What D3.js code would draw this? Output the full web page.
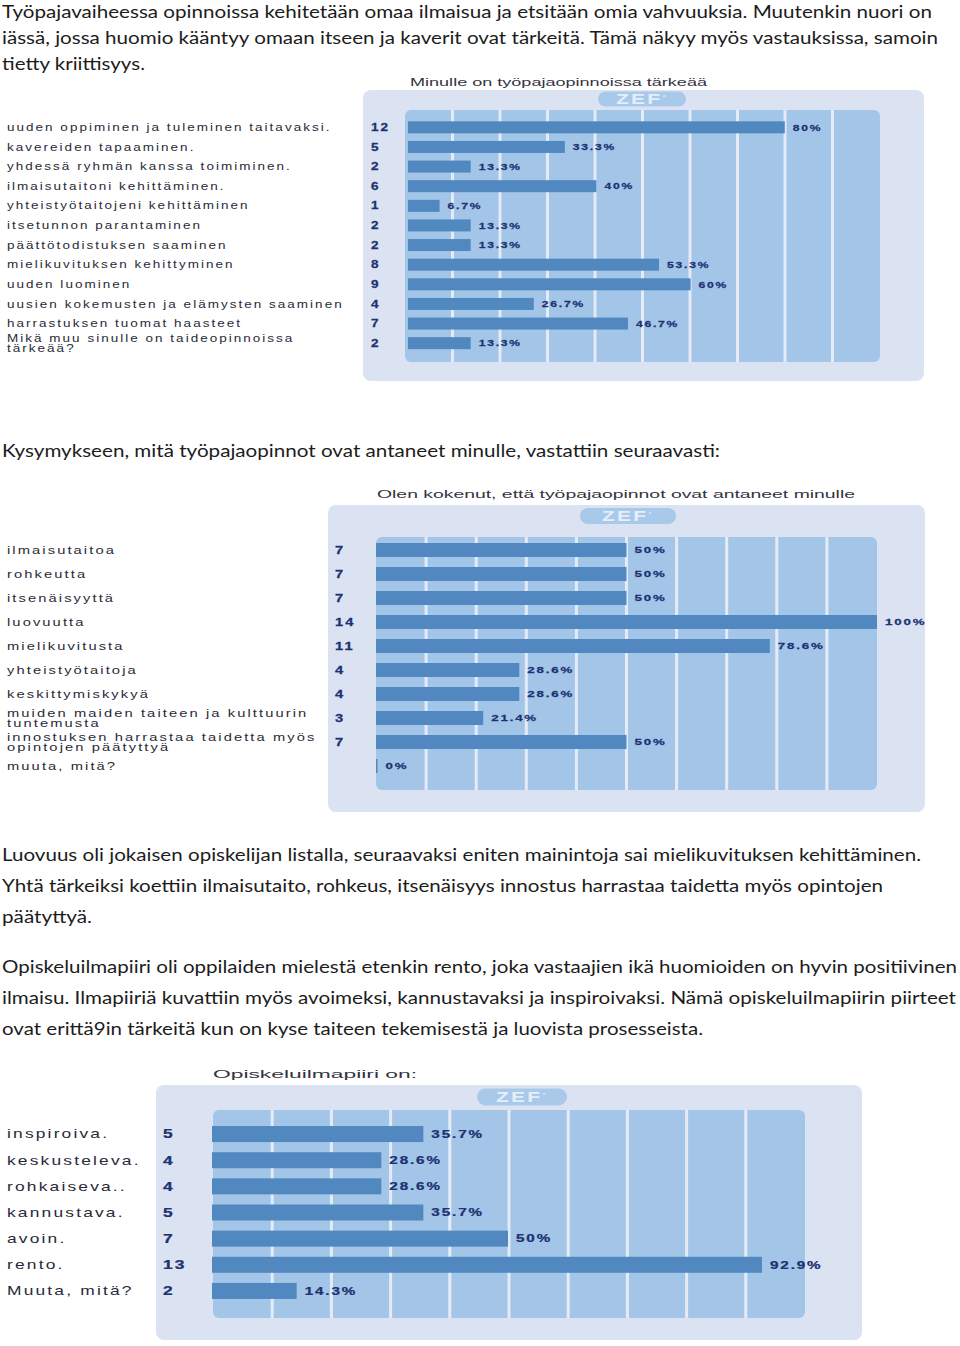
<!DOCTYPE html>
<html><head><meta charset="utf-8">
<script src="https://cdn.jsdelivr.net/npm/d3@7"></script>
<style>body{margin:0;background:#fff}svg{display:block}</style>
</head><body>
<script>
// ---------- DATA ----------
const chart1Title = "Minulle on työpajaopinnoissa tärkeää";
const chart1Categories = [
  "uuden oppiminen ja tuleminen taitavaksi.",
  "kavereiden tapaaminen.",
  "yhdessä ryhmän kanssa toimiminen.",
  "ilmaisutaitoni kehittäminen.",
  "yhteistyötaitojeni kehittäminen",
  "itsetunnon parantaminen",
  "päättötodistuksen saaminen",
  "mielikuvituksen kehittyminen",
  "uuden luominen",
  "uusien kokemusten ja elämysten saaminen",
  "harrastuksen tuomat haasteet",
  "Mikä muu sinulle on taideopinnoissa\ntärkeää?"
];
const chart1Counts = [12, 5, 2, 6, 1, 2, 2, 8, 9, 4, 7, 2];
const chart1Percents = [80, 33.3, 13.3, 40, 6.7, 13.3, 13.3, 53.3, 60, 26.7, 46.7, 13.3];

const chart2Title = "Olen kokenut, että työpajaopinnot ovat antaneet minulle";
const chart2Categories = [
  "ilmaisutaitoa",
  "rohkeutta",
  "itsenäisyyttä",
  "luovuutta",
  "mielikuvitusta",
  "yhteistyötaitoja",
  "keskittymiskykyä",
  "muiden maiden taiteen ja kulttuurin\ntuntemusta",
  "innostuksen harrastaa taidetta myös\nopintojen päätyttyä",
  "muuta, mitä?"
];
const chart2Counts = [7, 7, 7, 14, 11, 4, 4, 3, 7, null];
const chart2Percents = [50, 50, 50, 100, 78.6, 28.6, 28.6, 21.4, 50, 0];

const chart3Title = "Opiskeluilmapiiri on:";
const chart3Categories = [
  "inspiroiva.",
  "keskusteleva.",
  "rohkaiseva..",
  "kannustava.",
  "avoin.",
  "rento.",
  "Muuta, mitä?"
];
const chart3Counts = [5, 4, 4, 5, 7, 13, 2];
const chart3Percents = [35.7, 28.6, 28.6, 35.7, 50, 92.9, 14.3];

const gridTicks = [10, 20, 30, 40, 50, 60, 70, 80, 90];

const textLines = [
  "Työpajavaiheessa opinnoissa kehitetään omaa ilmaisua ja etsitään omia vahvuuksia. Muutenkin nuori on",
  "iässä, jossa huomio kääntyy omaan itseen ja kaverit ovat tärkeitä. Tämä näkyy myös vastauksissa, samoin",
  "tietty kriittisyys.",
  "Kysymykseen, mitä työpajaopinnot ovat antaneet minulle, vastattiin seuraavasti:",
  "Luovuus oli jokaisen opiskelijan listalla, seuraavaksi eniten mainintoja sai mielikuvituksen kehittäminen.",
  "Yhtä tärkeiksi koettiin ilmaisutaito, rohkeus, itsenäisyys innostus harrastaa taidetta myös opintojen",
  "päätyttyä.",
  "Opiskeluilmapiiri oli oppilaiden mielestä etenkin rento, joka vastaajien ikä huomioiden on hyvin positiivinen",
  "ilmaisu. Ilmapiiriä kuvattiin myös avoimeksi, kannustavaksi ja inspiroivaksi. Nämä opiskeluilmapiirin piirteet",
  "ovat erittä9in tärkeitä kun on kyse taiteen tekemisestä ja luovista prosesseista."
];

// ---------- LAYOUT ----------
const textLayout = [
  {y: 18, w: 930}, {y: 44, w: 936}, {y: 70, w: 143},
  {y: 457, w: 718},
  {y: 861, w: 919}, {y: 892, w: 881}, {y: 923, w: 90},
  {y: 973, w: 955}, {y: 1004, w: 954}, {y: 1035, w: 701}
];

const layouts = [
  {title:{x:410,y:86,w:297}, panel:[363,90,561,291], pill:{cx:642,cy:99,w:88,h:15},
   col:[405,110,880,362], bar:[408,879], rows:[117.5,353], barH:12,
   countX:371, labelX:7, fs:10, vfs:9, sx:1.35, lineGap:10},
  {title:{x:377,y:498,w:478}, panel:[328,505,597,307], pill:{cx:628,cy:516,w:96,h:16},
   col:[376,537,877,790], bar:[376,877], rows:[538,778], barH:14,
   countX:335, labelX:7, fs:10.5, vfs:9.5, sx:1.4, lineGap:10.5},
  {title:{x:213,y:1078,w:204}, panel:[156,1085,706,255], pill:{cx:522,cy:1097,w:90,h:17},
   col:[213,1110,805,1318], bar:[212,804], rows:[1121,1304], barH:16,
   countX:163, labelX:7, fs:12, vfs:10.5, sx:1.45, lineGap:11}
];

const W = 960, H = 1346;
const svg = d3.select("body").append("svg").attr("width", W).attr("height", H)
  .style("font-family", "'Liberation Sans', Arial, sans-serif");

// paragraphs
svg.append("g").selectAll("text").data(textLines).join("text")
  .attr("x", 2)
  .attr("y", (d, i) => textLayout[i].y)
  .attr("textLength", (d, i) => textLayout[i].w)
  .attr("lengthAdjust", "spacingAndGlyphs")
  .style("font-family", "Lato, 'Open Sans', sans-serif")
  .style("font-size", "18px")
  .attr("fill", "#1c1c1c")
  .text(d => d);

function drawChart(title, cats, counts, pcts, L) {
  const g = svg.append("g");
  // title
  g.append("text")
    .attr("x", L.title.x).attr("y", L.title.y)
    .attr("textLength", L.title.w).attr("lengthAdjust", "spacingAndGlyphs")
    .style("font-size", "11px").attr("fill", "#34343f").text(title);
  // panel
  g.append("rect").attr("x", L.panel[0]).attr("y", L.panel[1])
    .attr("width", L.panel[2]).attr("height", L.panel[3]).attr("rx", 8)
    .attr("fill", "#dbe2f1");
  // pill
  g.append("rect").attr("x", L.pill.cx - L.pill.w / 2).attr("y", L.pill.cy - L.pill.h / 2)
    .attr("width", L.pill.w).attr("height", L.pill.h).attr("rx", L.pill.h / 2)
    .attr("fill", "#a9c9ea");
  const zt = g.append("text")
    .attr("transform", `translate(${L.pill.cx},${L.pill.cy + 5}) scale(1.5,1)`)
    .attr("text-anchor", "middle").style("font-size", "14px").style("font-weight", "bold")
    .style("letter-spacing", "1.5px").attr("fill", "#e6eef9");
  zt.append("tspan").text("ZEF");
  zt.append("tspan").attr("dy", -5).style("font-size", "6px").text("°");

  // columns
  const colX = d3.scaleLinear().domain([0, 100]).range([L.col[0], L.col[2]]);
  g.append("rect").attr("x", L.col[0]).attr("y", L.col[1])
    .attr("width", L.col[2] - L.col[0]).attr("height", L.col[3] - L.col[1])
    .attr("rx", 6).attr("fill", "#a3c5e8");
  g.selectAll(".sep").data(gridTicks).join("rect").attr("class", "sep")
    .attr("x", d => colX(d) - 1.5).attr("y", L.col[1])
    .attr("width", 3).attr("height", L.col[3] - L.col[1])
    .attr("fill", "#e4ebf7");

  const x = d3.scaleLinear().domain([0, 100]).range(L.bar);
  const y = d3.scaleBand().domain(d3.range(cats.length)).range(L.rows);
  const cy = i => y(i) + y.bandwidth() / 2;

  // bars
  g.selectAll(".bar").data(pcts).join("rect").attr("class", "bar")
    .attr("x", x(0)).attr("y", (d, i) => cy(i) - L.barH / 2)
    .attr("width", d => Math.max(1.5, x(d) - x(0))).attr("height", L.barH)
    .attr("fill", "#5088bf");

  // value labels
  g.selectAll(".val").data(pcts).join("text").attr("class", "val")
    .attr("transform", (d, i) => `translate(${Math.max(x(d), x(0) + 1.5) + 8},${cy(i) + L.vfs * 0.36}) scale(${L.sx},1)`)
    .style("font-size", L.vfs + "px").style("font-weight", "bold")
    .style("letter-spacing", "1.3px").attr("fill", "#1c3272")
    .attr("stroke", "#1c3272").attr("stroke-width", 0.25)
    .text(d => d + "%");

  // counts
  g.selectAll(".cnt").data(counts).join("text").attr("class", "cnt")
    .attr("transform", (d, i) => `translate(${L.countX},${cy(i) + L.fs * 0.36}) scale(${L.sx},1)`)
    .style("font-size", L.fs + "px").style("font-weight", "bold")
    .style("letter-spacing", "1.5px").attr("fill", "#1c3272")
    .attr("stroke", "#1c3272").attr("stroke-width", 0.25)
    .text(d => d == null ? "" : d);

  // category labels
  cats.forEach((c, i) => {
    const lines = c.split("\n");
    lines.forEach((ln, j) => {
      const off = (j - (lines.length - 1) / 2) * L.lineGap;
      g.append("text")
        .attr("transform", `translate(${L.labelX},${cy(i) + off + L.fs * 0.36}) scale(${L.sx},1)`)
        .style("font-size", L.fs + "px").style("letter-spacing", "1.5px")
        .attr("fill", "#2a2a38").text(ln);
    });
  });
}

drawChart(chart1Title, chart1Categories, chart1Counts, chart1Percents, layouts[0]);
drawChart(chart2Title, chart2Categories, chart2Counts, chart2Percents, layouts[1]);
drawChart(chart3Title, chart3Categories, chart3Counts, chart3Percents, layouts[2]);
</script>
</body></html>
